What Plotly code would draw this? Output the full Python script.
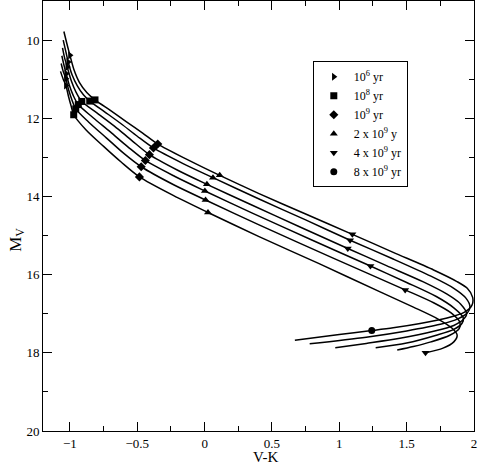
import plotly.graph_objects as go

# cooling tracks, V-K vs M_V (six tracks, brightest first)
track1_vk = [-1.045, -1.022, -1.000, -0.970, -0.930, -0.875, -0.814, -0.700, -0.580, -0.460, -0.348, -0.120, 0.112, 0.400, 0.750, 1.097, 1.400, 1.700, 1.870, 1.950, 1.990, 1.985, 1.930, 1.800, 1.600, 1.400, 1.241, 1.000, 0.670]
track1_mv = [9.78, 10.10, 10.39, 10.76, 11.08, 11.34, 11.53, 11.80, 12.09, 12.38, 12.66, 13.07, 13.46, 13.92, 14.45, 14.97, 15.43, 15.88, 16.17, 16.35, 16.58, 16.78, 16.96, 17.11, 17.25, 17.36, 17.43, 17.53, 17.68]

track2_vk = [-1.050, -1.030, -1.013, -0.985, -0.945, -0.900, -0.853, -0.740, -0.620, -0.500, -0.380, -0.160, 0.062, 0.400, 0.750, 1.080, 1.400, 1.680, 1.850, 1.940, 1.970, 1.950, 1.880, 1.750, 1.500, 1.200, 0.780]
track2_mv = [10.00, 10.30, 10.56, 10.88, 11.17, 11.40, 11.56, 11.84, 12.14, 12.46, 12.76, 13.16, 13.52, 14.06, 14.60, 15.12, 15.60, 16.04, 16.35, 16.60, 16.82, 16.98, 17.13, 17.27, 17.44, 17.60, 17.77]

track3_vk = [-1.055, -1.040, -1.020, -0.990, -0.955, -0.912, -0.800, -0.670, -0.540, -0.410, -0.200, 0.017, 0.350, 0.700, 1.063, 1.350, 1.620, 1.800, 1.900, 1.945, 1.920, 1.850, 1.700, 1.450, 1.200, 0.970]
track3_mv = [10.20, 10.45, 10.69, 11.04, 11.33, 11.57, 11.86, 12.20, 12.57, 12.93, 13.33, 13.69, 14.22, 14.77, 15.33, 15.77, 16.18, 16.50, 16.75, 17.00, 17.15, 17.30, 17.45, 17.63, 17.76, 17.87]

track4_vk = [-1.060, -1.045, -1.028, -1.005, -0.975, -0.938, -0.830, -0.700, -0.570, -0.440, -0.220, 0.002, 0.350, 0.800, 1.231, 1.500, 1.720, 1.850, 1.920, 1.910, 1.850, 1.720, 1.500, 1.270]
track4_mv = [10.40, 10.63, 10.86, 11.15, 11.42, 11.65, 11.98, 12.35, 12.73, 13.08, 13.49, 13.86, 14.42, 15.12, 15.78, 16.20, 16.56, 16.85, 17.10, 17.25, 17.40, 17.55, 17.75, 17.87]

track5_vk = [-1.065, -1.050, -1.030, -1.010, -0.985, -0.957, -0.860, -0.730, -0.600, -0.471, -0.230, 0.007, 0.400, 0.950, 1.489, 1.700, 1.830, 1.895, 1.890, 1.820, 1.680, 1.550, 1.430]
track5_mv = [10.60, 10.80, 10.99, 11.27, 11.53, 11.76, 12.10, 12.50, 12.90, 13.24, 13.70, 14.09, 14.72, 15.57, 16.39, 16.72, 16.98, 17.22, 17.38, 17.55, 17.72, 17.84, 17.93]

track6_vk = [-1.070, -1.050, -1.030, -1.010, -0.990, -0.972, -0.880, -0.750, -0.620, -0.484, -0.230, 0.025, 0.400, 0.850, 1.303, 1.550, 1.730, 1.840, 1.875, 1.850, 1.770, 1.640]
track6_mv = [10.80, 11.00, 11.16, 11.45, 11.70, 11.91, 12.30, 12.72, 13.12, 13.50, 13.98, 14.41, 15.02, 15.72, 16.44, 16.83, 17.13, 17.38, 17.55, 17.72, 17.88, 18.00]

# age markers
age_1e6_vk = [-1.000, -1.013, -1.020, -1.028, -1.030, -1.030]
age_1e6_mv = [10.39, 10.56, 10.69, 10.86, 10.99, 11.16]
age_1e8_vk = [-0.814, -0.853, -0.912, -0.938, -0.957, -0.972]
age_1e8_mv = [11.53, 11.56, 11.57, 11.65, 11.76, 11.91]
age_1e9_vk = [-0.348, -0.380, -0.410, -0.440, -0.471, -0.484]
age_1e9_mv = [12.66, 12.76, 12.93, 13.08, 13.24, 13.50]
age_2e9_vk = [0.112, 0.062, 0.017, 0.002, 0.007, 0.025]
age_2e9_mv = [13.46, 13.52, 13.69, 13.86, 14.09, 14.41]
age_4e9_vk = [1.097, 1.080, 1.063, 1.231, 1.489, 1.640]
age_4e9_mv = [14.97, 15.12, 15.33, 15.78, 16.39, 18.00]
age_8e9_vk = [1.241]
age_8e9_mv = [17.43]

tracks = [(track1_vk, track1_mv), (track2_vk, track2_mv), (track3_vk, track3_mv),
          (track4_vk, track4_mv), (track5_vk, track5_mv), (track6_vk, track6_mv)]

ages = [
    ("10<sup>6</sup> yr", "triangle-right", age_1e6_vk, age_1e6_mv),
    ("10<sup>8</sup> yr", "square", age_1e8_vk, age_1e8_mv),
    ("10<sup>9</sup> yr", "diamond", age_1e9_vk, age_1e9_mv),
    ("2 x 10<sup>9</sup> y", "triangle-up", age_2e9_vk, age_2e9_mv),
    ("4 x 10<sup>9</sup> yr", "triangle-down", age_4e9_vk, age_4e9_mv),
    ("8 x 10<sup>9</sup> yr", "circle", age_8e9_vk, age_8e9_mv),
]

fig = go.Figure()

for vk, mv in tracks:
    fig.add_trace(go.Scatter(x=vk, y=mv, mode='lines', showlegend=False,
                             line=dict(color='black', width=1.5, shape='spline', smoothing=0.8),
                             hoverinfo='skip'))

for name, sym, vk, mv in ages:
    fig.add_trace(go.Scatter(x=vk, y=mv, mode='markers', name=name,
                             marker=dict(symbol=sym, color='black', size=7)))

serif = 'Liberation Serif'
axis_common = dict(showgrid=False, zeroline=False, showline=True, linecolor='black', linewidth=1,
                   mirror='ticks', ticks='inside', ticklen=9, tickwidth=1, tickcolor='black',
                   automargin=False,
                   tickfont=dict(family=serif, size=13, color='black'))

fig.update_xaxes(range=[-1.2, 2], tick0=-1, dtick=0.5,
                 minor=dict(dtick=0.25, ticks='inside', ticklen=5, tickcolor='black'),
                 **axis_common)
fig.update_yaxes(range=[20, 9], tick0=10, dtick=2,
                 minor=dict(dtick=1, ticks='inside', ticklen=5, tickcolor='black'),
                 **axis_common)

# axis titles placed where the original has them (V-K a bit right of centre, M_V a bit low)
fig.add_annotation(text='V-K', xref='paper', yref='paper', x=0.517, y=-0.061,
                   xanchor='center', yanchor='middle', showarrow=False, borderpad=0,
                   font=dict(family=serif, size=15, color='black'))
fig.add_annotation(text='M<sub>V</sub>', xref='paper', yref='paper', x=-0.061, y=0.444,
                   xanchor='center', yanchor='middle', showarrow=False, textangle=-90,
                   font=dict(family=serif, size=17, color='black'))

fig.update_layout(
    width=479, height=464,
    margin=dict(l=43, r=5, t=1, b=33),
    plot_bgcolor='white', paper_bgcolor='white',
    font=dict(family=serif, color='black'),
    legend=dict(x=0.626, y=0.86, xanchor='left', yanchor='top',
                bordercolor='black', borderwidth=1, bgcolor='white',
                font=dict(family=serif, size=12, color='black'),
                itemwidth=30, tracegroupgap=0),
)

# the page's default body margin would push the figure 8px down/right
fig.write_html("out.html", config={'displayModeBar': False},
               post_script="document.body.style.margin='0';")
